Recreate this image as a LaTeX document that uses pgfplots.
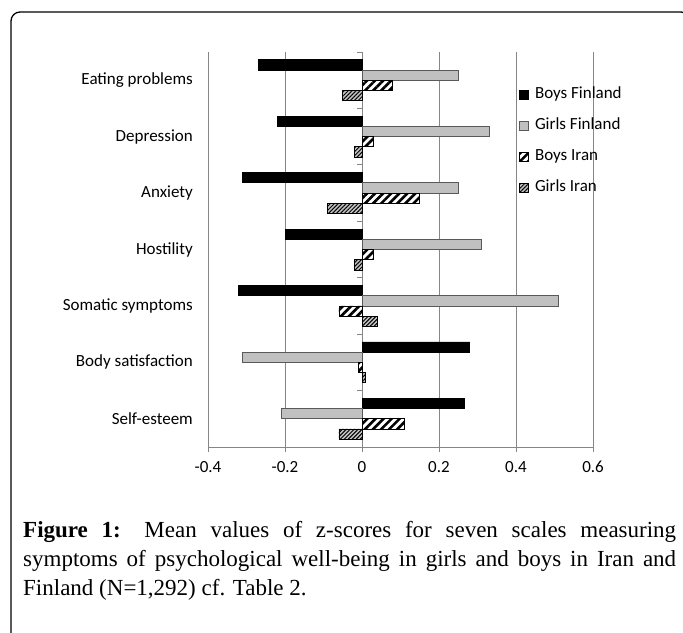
\documentclass[border=0pt]{standalone}
\usepackage{pgfplots}
\pgfplotsset{compat=1.18}
\usetikzlibrary{patterns.meta}
\usepackage{fontspec}
\setmainfont{Liberation Serif}
\newfontfamily\calibri{Carlito}
\definecolor{gridgray}{HTML}{868686}
\definecolor{gfill}{HTML}{C0C0C0}
\definecolor{gborder}{HTML}{595959}
\definecolor{gifill}{HTML}{C4C4C4}
\pgfplotstableread{
y BF GF BI GI
0 -0.27 0.25 0.08 -0.05
1 -0.22 0.33 0.03 -0.02
2 -0.31 0.25 0.15 -0.09
3 -0.20 0.31 0.03 -0.02
4 -0.32 0.51 -0.06 0.04
5 0.28 -0.31 -0.01 0.01
6 0.267 -0.21 0.11 -0.06
}\datatable
\begin{document}
\begin{tikzpicture}[x=1bp,y=-1bp]
\useasboundingbox (0,0) rectangle (683,633);
\draw[line width=1.3bp, rounded corners=9bp] (11,12) rectangle (690,650);
\begin{axis}[
  at={(208bp,-447bp)}, anchor=south west,
  scale only axis, width=385bp, height=395bp,
  xmin=-0.4, xmax=0.6, ymin=-0.5, ymax=6.5, y dir=reverse,
  axis x line=bottom, axis y line=left,
  axis line style={-, gridgray, line width=0.8bp},
  y axis line style={draw=none},
  xtick={-0.4,-0.2,0,0.2,0.4,0.6},
  xticklabels={-0.4,-0.2,0,0.2,0.4,0.6},
  ytick={0,1,2,3,4,5,6},
  yticklabels={Eating problems,Depression,Anxiety,Hostility,Somatic symptoms,Body satisfaction,Self-esteem},
  tick align=outside, major tick length=5bp,
  x tick style={gridgray, line width=0.8bp},
  y tick style={draw=none},
  ticklabel style={font=\calibri\fontsize{17bp}{20bp}\selectfont},
  xticklabel style={inner sep=0pt, text height=11bp, yshift=-9bp},
  yticklabel style={anchor=east, inner sep=0pt, xshift=-10bp},
  xmajorgrids, major x grid style={gridgray, line width=0.8bp},
  legend style={at={(0.8078,0.9106)}, anchor=north west, draw=none, fill=none, inner sep=0pt,
    font=\calibri\fontsize{17bp}{20bp}\selectfont, row sep=17bp, column sep=6bp,
    nodes={inner sep=0pt, text height=11bp, text depth=3bp}},
  legend cell align=left,
  legend image code/.code={\path[draw,#1] (0bp,-4.5bp) rectangle (9bp,4.5bp);},
  clip=false,
]
\addplot[xbar, bar width=10.2bp, bar shift=15.3bp, draw=black, line width=0.8bp, fill=black] table[x=BF,y=y]{\datatable};
\addplot[xbar, bar width=10.2bp, bar shift=5.1bp, draw=gborder, line width=0.8bp, fill=gfill] table[x=GF,y=y]{\datatable};
\addplot[xbar, bar width=10.2bp, bar shift=-5.1bp, draw=black, line width=0.8bp, fill=white,
  postaction={pattern={Lines[angle=45,distance=5.7bp,line width=2.6bp]}, pattern color=black}] table[x=BI,y=y]{\datatable};
\addplot[xbar, bar width=10.2bp, bar shift=-15.3bp, draw=black, line width=0.8bp, fill=gifill,
  postaction={pattern={Lines[angle=45,distance=2.8bp,line width=1bp]}, pattern color=black}] table[x=GI,y=y]{\datatable};
\legend{Boys Finland,Girls Finland,Boys Iran,Girls Iran}
\pgfplotsinvokeforeach{-0.5,0.5,1.5,2.5,3.5,4.5,5.5,6.5}{\draw[gridgray, line width=0.8bp] (axis cs:0,#1) -- ++(-5bp,0bp);}
\end{axis}
\begin{scope}[font=\fontsize{23bp}{29bp}\selectfont]
\node[anchor=base west, inner sep=0pt] at (23,537) {\makebox[653bp][s]{\textbf{Figure 1:} Mean values of z-scores for seven scales measuring}};
\node[anchor=base west, inner sep=0pt] at (23,566) {\makebox[653bp][s]{symptoms of psychological well-being in girls and boys in Iran and}};
\node[anchor=base west, inner sep=0pt] at (23,595) {Finland (N=1,292) cf. Table 2.};
\end{scope}
\end{tikzpicture}
\end{document}
